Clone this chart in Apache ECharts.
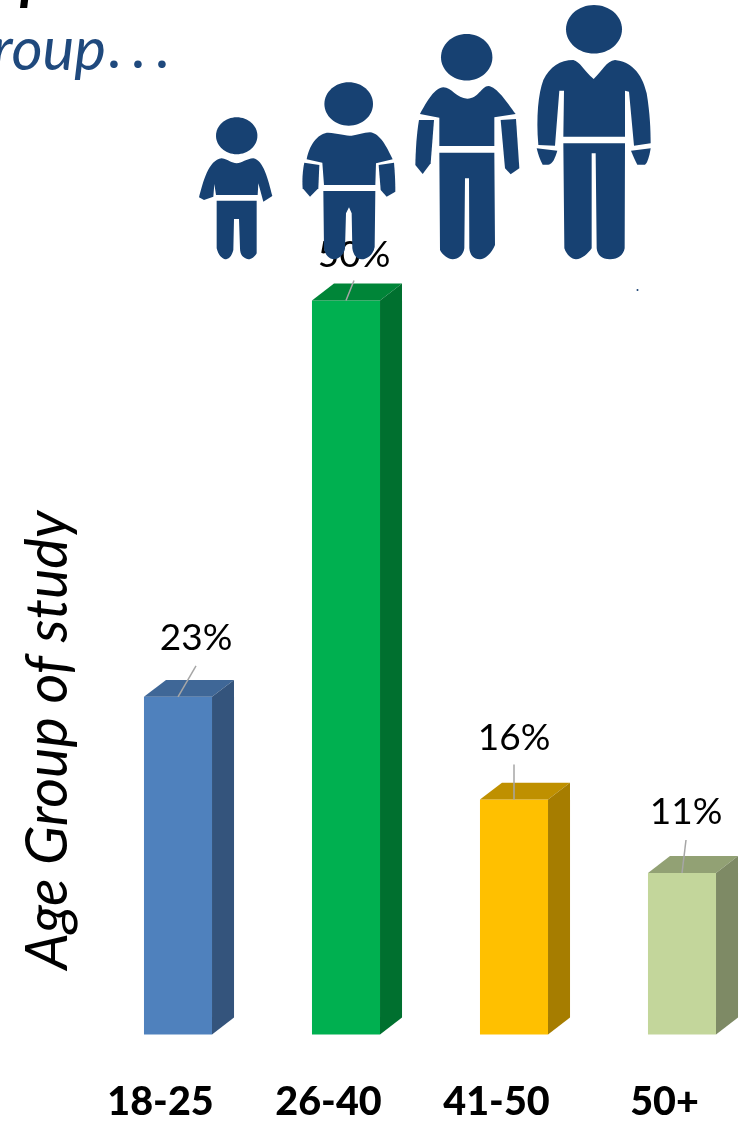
<!DOCTYPE html>
<html><head><meta charset="utf-8">
<style>html,body{margin:0;padding:0;background:#fff}#c{width:750px;height:1124px}</style>
<script src="https://cdn.jsdelivr.net/npm/echarts@6/dist/echarts.min.js"></script>
</head><body><div id="c"></div>
<script>
const categories = ['18-25', '26-40', '41-50', '50+'];
const shares = [23, 50, 16, 11];
const yTitle = 'Age Group of study';
const frontColors = ['#4f81bd', '#00b050', '#ffc000', '#c3d69b'];
const topColors = ['#3f6797', '#008538', '#bf9000', '#92a174'];
const sideColors = ['#34547c', '#00702f', '#a67d00', '#7e8a65'];
// leader line end and label centre, relative to the middle of the bar's top edge
const leaderEnds = [[18, -31], [8, -20], [0, -35], [4, -33]];
const labelShift = [[18, -59], [8, -45], [0, -62], [4, -61]];
const FONT = 'Lato';
const NAVY = '#174172';

const person1 = [
 'M27,592 C40,545 55,480 95,475 C115,478 125,490 140,490 C155,490 170,476 190,475 C220,480 235,540 247,588 L220,605 L205,550 L203,585 L78,585 L73,552 L70,590 L42,600 Z',
 'M80,602 L200,602 L200,760 C195,770 185,778 175,778 C160,775 150,765 150,745 L147,657 L132,657 L130,750 C125,770 115,778 105,778 C95,775 85,765 80,745 Z'
];
const person2 = [
 'M350,478 C360,425 390,398 415,398 C440,400 470,407 485,407 C505,405 520,397 540,397 C570,400 590,440 608,478 L558,490 L556,555 L402,555 L397,488 Z',
 'M343,488 L388,495 L385,565 L360,590 L338,565 C336,540 338,510 343,488 Z',
 'M566,495 L612,488 C615,520 616,550 616,575 L590,590 L572,570 Z',
 'M400,573 L556,573 L554,740 C550,765 530,778 515,778 C500,778 490,765 487,745 L485,640 L477,622 L468,640 L465,745 C462,765 445,778 432,778 C418,778 405,765 402,745 Z'
];
const person3 = [
 'M30,342 C50,305 75,262 100,262 C125,262 140,296 172,296 C205,296 215,258 235,258 C260,260 290,305 317,342 L253,352 L253,438 L88,438 L88,353 Z',
 'M27,360 L72,360 L62,490 L38,522 L16,495 C17,450 20,400 27,360 Z',
 'M272,360 L318,357 L328,505 L302,523 L285,505 Z',
 'M88,458 L253,458 L255,735 C245,760 225,778 210,778 C190,778 180,765 178,745 L177,535 L165,535 L163,745 C160,765 145,778 128,778 C115,778 95,762 90,750 Z'
];
const person4 = [
 'M385,435 C378,350 385,280 400,240 C420,200 450,180 490,180 C510,185 520,210 551,237 C575,215 590,182 615,180 C660,185 695,215 710,280 C720,340 722,390 722,430 L672,437 L657,275 L645,272 L645,410 L460,410 L462,272 L448,272 L435,437 Z',
 'M380,445 L442,452 C435,475 428,492 415,494 L398,494 C390,480 385,465 380,445 Z',
 'M663,452 L722,445 C718,470 712,490 705,494 L682,494 C675,480 668,465 663,452 Z',
 'M460,430 L645,430 L644,745 C640,765 625,778 600,778 C575,778 562,765 560,745 L557,460 L545,460 L545,745 C535,760 515,778 498,778 C485,778 470,765 463,745 Z'
];
function icon(paths, ox) {
  return paths.map(d => ({ type: 'path', x: ox, y: 0, scaleX: 1/3, scaleY: 1/3,
    shape: { pathData: d }, style: { fill: NAVY } }));
}
function head(cx, cy, rx, ry) {
  return { type: 'ellipse', shape: { cx, cy, rx, ry }, style: { fill: NAVY } };
}
const chart = echarts.init(document.getElementById('c'), null, { renderer: 'canvas' });
chart.setOption({
  animation: false,
  backgroundColor: '#fff',
  grid: { left: 94, top: 300.5, width: 672, height: 734, outerBoundsMode: 'none' },
  xAxis: { type: 'category', data: categories, axisLine: { show: false }, axisTick: { show: false },
    axisLabel: { interval: 0, margin: 48, padding: [0, 35, 0, 0], fontFamily: FONT, fontWeight: 900, fontSize: 39.5, color: '#000' } },
  yAxis: { type: 'value', min: 0, max: 50, show: false, splitLine: { show: false } },
  series: [{
    type: 'custom', z: 2, clip: false,
    data: shares.map((v, i) => [i, v]),
    encode: { x: 0, y: 1 },
    renderItem(params, api) {
      const i = api.value(0), v = api.value(1);
      const base = api.coord([i, 0]), top = api.coord([i, v]);
      const band = api.size([1, 0])[0];
      const w = band * 0.405, dx = band * 0.131, dy = band * 0.101;
      const l = base[0] - w / 2, r = base[0] + w / 2, y0 = base[1], y1 = top[1];
      const [lx, ly] = leaderEnds[i], [tx, ty] = labelShift[i];
      return { type: 'group', children: [
        { type: 'rect', shape: { x: l, y: y1, width: w, height: y0 - y1 }, style: { fill: frontColors[i] } },
        { type: 'polygon', shape: { points: [[l, y1], [l + dx, y1 - dy], [r + dx, y1 - dy], [r, y1]] }, style: { fill: topColors[i] } },
        { type: 'polygon', shape: { points: [[r, y1], [r + dx, y1 - dy], [r + dx, y0 - dy], [r, y0]] }, style: { fill: sideColors[i] } },
        { type: 'line', shape: { x1: base[0], y1: y1, x2: base[0] + lx, y2: y1 + ly }, style: { stroke: '#a6a6a6', lineWidth: 1.5 } },
        { type: 'text', x: base[0] + tx, y: y1 + ty, style: { text: v + '%', fontFamily: FONT, fontSize: 37, fill: '#000', align: 'center', verticalAlign: 'middle' } }
      ] };
    }
  }, {
    type: 'custom', z: 10, clip: false, silent: true,
    data: [[0, 0]],
    encode: { x: 0, y: 1 },
    renderItem() {
      return { type: 'group', children: [
        head(236.7, 135.7, 20.7, 18.5),
        head(348.7, 104, 24.3, 21.7),
        head(466.7, 57.3, 25.7, 23.3),
        head(594, 29.3, 28, 24.3),
        ...icon(person1, 190), ...icon(person2, 190), ...icon(person3, 410), ...icon(person4, 410),
        { type: 'circle', shape: { cx: 637.5, cy: 290, r: 1 }, style: { fill: NAVY } }
      ] };
    }
  }],
  graphic: [
    { type: 'text', x: 48, y: 740, rotation: Math.PI / 2, z: 1,
      style: { text: yTitle, fontFamily: FONT, fontStyle: 'italic', fontSize: 57.5, fill: '#000', align: 'center', verticalAlign: 'middle' } },
    { type: 'text', x: 106, y: 21, z: 1,
      style: { text: 'roup', fontFamily: FONT, fontStyle: 'italic', fontSize: 60, fill: '#1f497d', align: 'right' } },
    { type: 'text', x: 108, y: 27, z: 1,
      style: { text: '. . .', fontFamily: FONT, fontWeight: 'bold', fontSize: 50, fill: '#1f497d' } },
    { type: 'text', x: 20, y: -51, z: 1,
      style: { text: 'p', fontFamily: FONT, fontStyle: 'italic', fontWeight: 'bold', fontSize: 60, fill: '#000' } }
  ]
});
</script></body></html>
